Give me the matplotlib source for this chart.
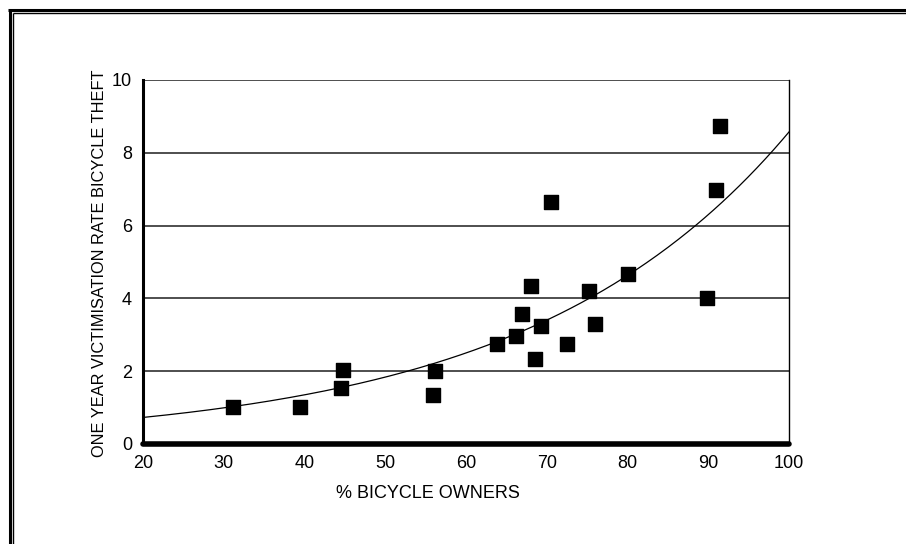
import numpy as np
import matplotlib
matplotlib.use("Agg")
import matplotlib.pyplot as plt
from matplotlib.lines import Line2D

plt.rcParams['font.family'] = ['Liberation Sans', 'DejaVu Sans']

# Data
owners = [31.1, 39.4, 44.8, 44.5, 56.2, 55.9, 63.9, 66.2, 66.9, 68.0, 68.6, 69.3,
          70.5, 72.5, 75.2, 76.0, 80.1, 89.9, 91.0, 91.4]
theft = [1.02, 1.01, 2.03, 1.55, 2.00, 1.35, 2.75, 2.96, 3.56, 4.33, 2.33, 3.24,
         6.64, 2.76, 4.21, 3.30, 4.68, 4.00, 6.97, 8.74]
xticks = [20, 30, 40, 50, 60, 70, 80, 90, 100]
yticks = [0, 2, 4, 6, 8, 10]
# exponential trend y = a*exp(b*x)
trend_a = 0.394
trend_b = 0.0308

W, H = 906, 544
fig = plt.figure(figsize=(W / 100, H / 100), dpi=100)

# double frame (left and top visible)
def fl(x0, y0, x1, y1, lw):
    fig.add_artist(Line2D([x0 / W, x1 / W], [1 - y0 / H, 1 - y1 / H], color='black',
                          lw=lw, transform=fig.transFigure, solid_capstyle='butt'))

fl(9.5, 9.5, 9.5, 560, 2.2)
fl(8, 9.5, 920, 9.5, 2.2)
fl(13, 13, 13, 560, 1.0)
fl(12.5, 13, 920, 13, 1.0)

ax = fig.add_axes([143 / W, (H - 444) / H, 646 / W, 364 / H])
ax.set_xlim(20, 100)
ax.set_ylim(0, 10)

for yv in yticks[1:]:
    ax.axhline(yv, color='#404040', lw=1.3, zorder=1)

xs = np.linspace(20, 100, 300)
ax.plot(xs, trend_a * np.exp(trend_b * xs), color='black', lw=0.9, zorder=2)

ax.scatter(owners, theft, marker='s', s=105, color='black', zorder=3, clip_on=False)

ax.spines['top'].set_visible(False)
ax.spines['right'].set_linewidth(1.0)
ax.spines['left'].set_linewidth(2.2)
ax.spines['bottom'].set_linewidth(4.0)
ax.spines['bottom'].set_capstyle('round')

ax.set_xticks(xticks)
ax.set_yticks(yticks)
ax.set_xticklabels([str(v) for v in xticks])
ax.set_yticklabels([str(v) for v in yticks])
ax.tick_params(axis='both', length=0, labelsize=13, colors='black')
ax.tick_params(axis='x', pad=8)
ax.tick_params(axis='y', pad=8)

fig.text(428 / W, 1 - 494 / H, '% BICYCLE OWNERS', ha='center', va='center', fontsize=13)
fig.text(99.5 / W, 1 - 263 / H, 'ONE YEAR VICTIMISATION RATE BICYCLE THEFT', rotation=90,
         ha='center', va='center', fontsize=11.8)

fig.savefig('out.png', dpi=100)
